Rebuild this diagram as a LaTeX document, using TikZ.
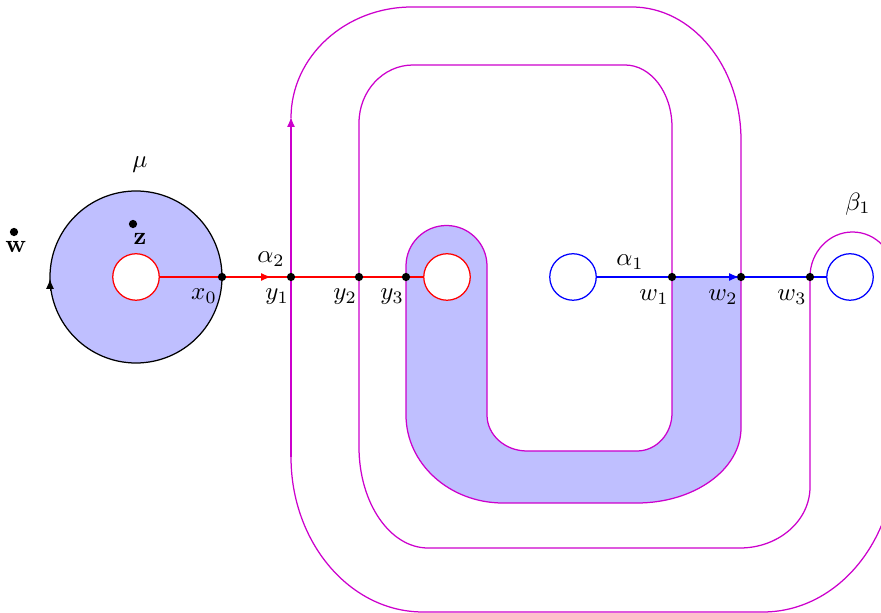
\documentclass[tikz,border=0pt]{standalone}
\usetikzlibrary{arrows.meta}
\definecolor{mag}{RGB}{204,0,204}
\definecolor{lightblue}{RGB}{191,191,255}
\begin{document}
\begin{tikzpicture}[x=0.4pt,y=0.4pt,
  dot/.style={circle,fill=black,inner sep=0pt,minimum size=3.3pt},
  lbl/.style={inner sep=0pt},
  mline/.style={draw=mag,line width=0.5pt},
  hole/.style={circle,inner sep=0pt,minimum size=18.6pt,fill=white,line width=0.5pt},
  tip/.style={-{Latex[length=4pt,width=3.2pt]}}]
\useasboundingbox (0,0) rectangle (881,613);

% shaded U region
\fill[lightblue] (406,347) arc[start angle=180,end angle=0,radius=40.5]
  -- (487,198) arc[start angle=180,end angle=270,x radius=40,y radius=36]
  -- (637,162) arc[start angle=270,end angle=360,x radius=35,y radius=38]
  -- (672,336) -- (741,336) -- (741,185)
  arc[start angle=0,end angle=-90,x radius=104,y radius=75]
  -- (503,110) arc[start angle=270,end angle=180,x radius=97,y radius=88] -- cycle;

% annulus
\node[circle,draw=black,fill=lightblue,inner sep=0pt,minimum size=68.8pt,line width=0.5pt] (mu) at (136,336) {};
\node[hole,draw=red] (h0) at (136,336) {};
\coordinate (la) at (50,322);
\coordinate (lb) at (50,334);
\draw[tip] (la) -- (lb);

% magenta curve beta_1
\begin{scope}
\clip (0,0) rectangle (881,613);
\draw[mline] (291,495) arc[start angle=180,end angle=90,x radius=121,y radius=111]
  -- (632,606) arc[start angle=90,end angle=0,x radius=109,y radius=133]
  -- (741,185) arc[start angle=0,end angle=-90,x radius=104,y radius=75]
  -- (503,110) arc[start angle=270,end angle=180,x radius=97,y radius=88]
  -- (406,347) arc[start angle=180,end angle=0,radius=40.5]
  -- (487,198) arc[start angle=180,end angle=270,x radius=40,y radius=36]
  -- (637,162) arc[start angle=270,end angle=360,x radius=35,y radius=38]
  -- (672,486) arc[start angle=0,end angle=90,x radius=47,y radius=62]
  -- (413,548) arc[start angle=90,end angle=180,x radius=54,y radius=58]
  -- (359,166) arc[start angle=180,end angle=270,x radius=69,y radius=101]
  -- (740,65) arc[start angle=270,end angle=360,x radius=70,y radius=61]
  -- (810,336) arc[start angle=180,end angle=0,x radius=42.5,y radius=45]
  -- (895,156) arc[start angle=0,end angle=-90,x radius=132,y radius=155]
  -- (423,1) arc[start angle=270,end angle=180,x radius=132,y radius=155];
\end{scope}
\coordinate (ma) at (291,156);
\coordinate (mb) at (291,496);
\draw[mline,tip,mag] (ma) -- (mb);

% red alpha_2 circle and arc
\node[hole,draw=red] (h1) at (447,336) {};
\draw[red,line width=0.5pt] (h0.east) -- (h1.west);
\coordinate (ra) at (271,336);

% blue alpha_1 circles and arc
\node[hole,draw=blue] (b1) at (573,336) {};
\node[hole,draw=blue] (b2) at (850,336) {};
\draw[blue,line width=0.5pt] (b1.east) -- (b2.west);
\coordinate (ba) at (739,336);

% points
\node[dot] (x0) at (222,336) {};
\node[dot] (y1) at (291,336) {};
\node[dot] (y2) at (359,336) {};
\node[dot] (y3) at (406,336) {};
\node[dot] (w1) at (672,336) {};
\node[dot] (w2) at (741,336) {};
\node[dot] (w3) at (810,336) {};
\node[dot] (pw) at (14,381) {};
\node[dot] (pz) at (133,389) {};
\draw[red,tip,line width=0.5pt] (x0) -- (ra);
\draw[blue,tip,line width=0.5pt] (w1) -- (ba);

% labels
\node[lbl] (lmu) at (140,448) {$\mu$};
\node[lbl] (lw) at (16,366) {$\mathbf{w}$};
\node[lbl] (lz) at (140,374) {$\mathbf{z}$};
\node[lbl] (lx0) at (204,317) {$x_0$};
\node[lbl] (la2) at (271,354) {$\alpha_2$};
\node[lbl] (ly1) at (277,316) {$y_1$};
\node[lbl] (ly2) at (345,316) {$y_2$};
\node[lbl] (ly3) at (392,316) {$y_3$};
\node[lbl] (la1) at (630,351) {$\alpha_1$};
\node[lbl] (lw1) at (654,316) {$w_1$};
\node[lbl] (lw2) at (723,316) {$w_2$};
\node[lbl] (lw3) at (792,316) {$w_3$};
\node[lbl] (lb1) at (858,409) {$\beta_1$};
\end{tikzpicture}
\end{document}
